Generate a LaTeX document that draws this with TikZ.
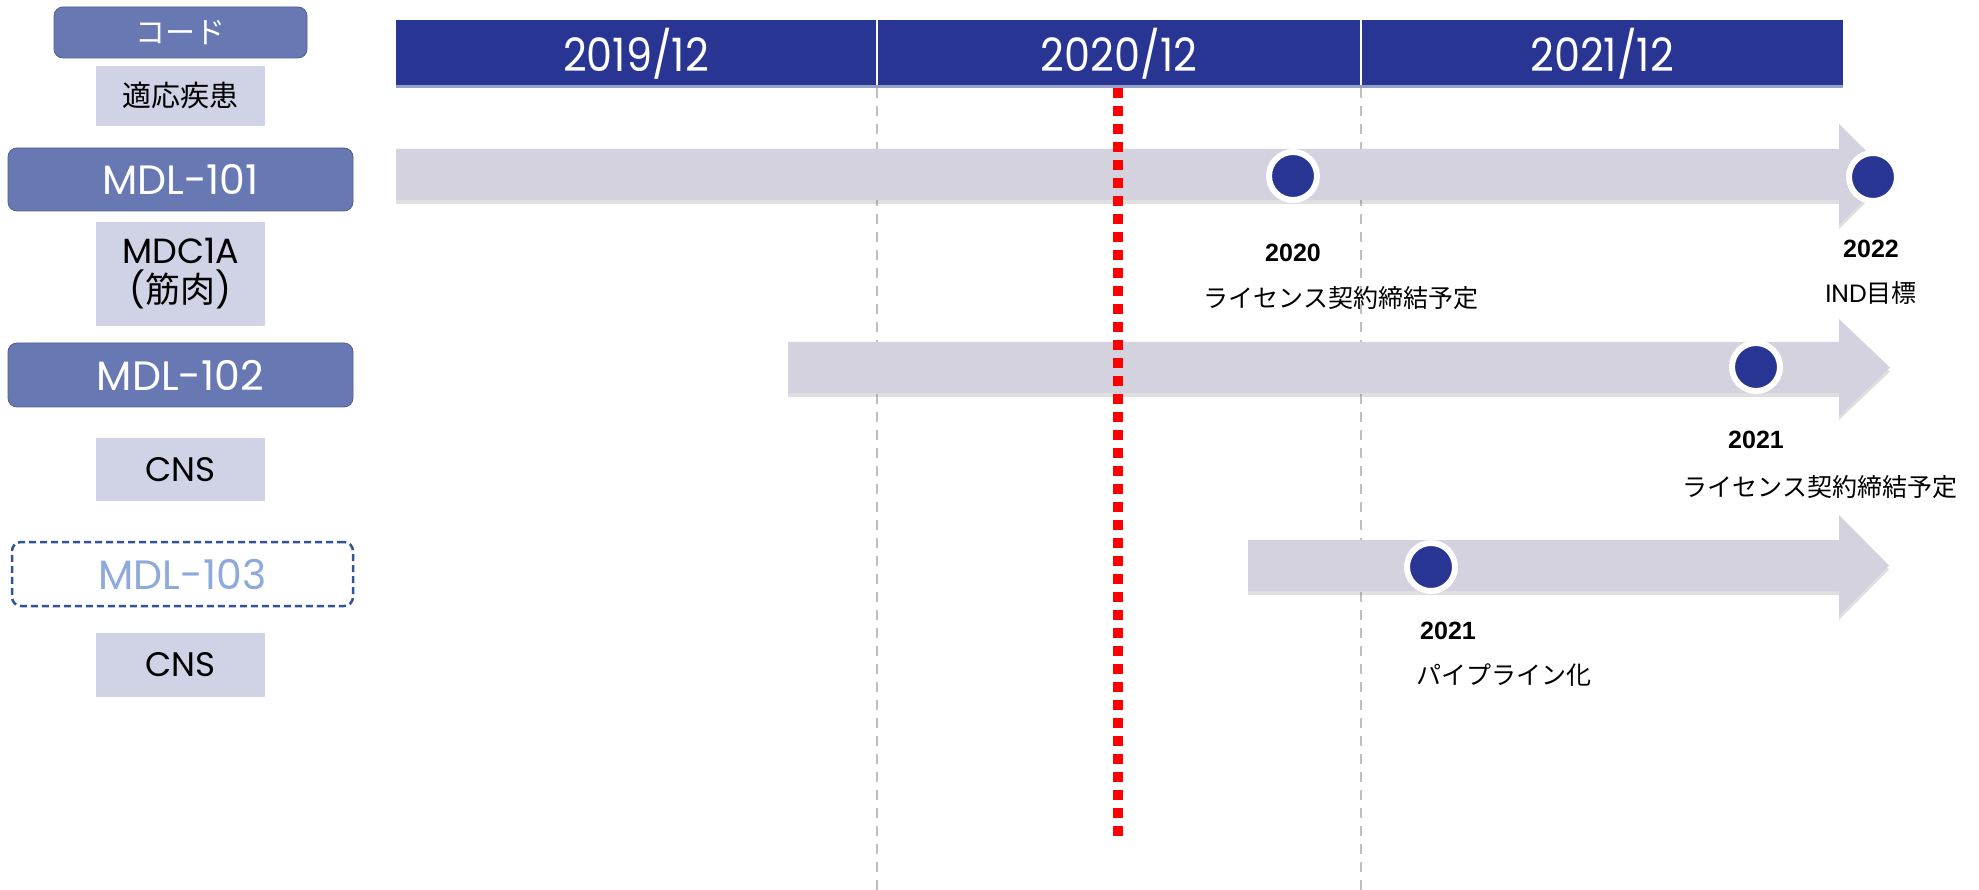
\documentclass[tikz,border=0pt]{standalone}
\usepackage{fontspec}
\setmainfont{Poppins}
\newfontfamily\jpfont{Noto Sans CJK JP}
\newfontfamily\yearfont{Liberation Sans}
\usetikzlibrary{shadows}
\definecolor{hdrblue}{RGB}{40,53,147}
\definecolor{codeblue}{RGB}{104,120,179}
\definecolor{lavender}{RGB}{208,210,230}
\definecolor{trackgrey}{RGB}{211,210,222}
\definecolor{ghostblue}{RGB}{142,169,219}
\definecolor{dashblue}{RGB}{47,85,151}
\begin{document}
\begin{tikzpicture}[x=1pt,y=-1pt,
  codebox/.style={fill=codeblue,draw=codeblue!80!black,line width=0.8pt,rounded corners=9pt,text=white,inner sep=0pt,minimum width=345pt,minimum height=63pt,font=\fontsize{41}{45}\selectfont},
  infobox/.style={fill=lavender,inner sep=0pt,minimum width=169pt,align=center,font=\fontsize{34}{36}\selectfont},
  track/.style={fill=trackgrey,drop shadow={shadow xshift=0pt,shadow yshift=-4pt,opacity=0.25}},
  milestone/.style={circle,fill=hdrblue,draw=white,line width=6pt,minimum size=48pt,inner sep=0pt},
  yearlbl/.style={font=\yearfont\bfseries\fontsize{25}{28}\selectfont},
  eventlbl/.style={font=\jpfont\fontsize{25}{29}\selectfont},
  datelbl/.style={text=white,font=\fontsize{46}{50}\selectfont,xscale=0.9},
  gridline/.style={draw=black!25,line width=2pt,dash pattern=on 10pt off 8pt},
]
\useasboundingbox (0,0) rectangle (1979,890);

% left column
\node[codebox,minimum width=253pt,minimum height=51pt,font=\jpfont\fontsize{30}{33}\selectfont] (codehdr) at (180.5,32.5) {コード};
\node[infobox,minimum height=60pt,font=\jpfont\fontsize{29}{32}\selectfont] (diseasehdr) at (180.5,96) {適応疾患};
\node[codebox] (mdl101) at (180.5,179.5) {MDL-101};
\node[infobox,minimum height=104pt,font=\fontsize{35}{39}\selectfont] (mdc1a) at (180.5,274) {MDC1A\\({\jpfont 筋肉})};
\node[codebox,minimum height=64pt] (mdl102) at (180.5,375) {MDL-102};
\node[infobox,minimum height=63pt] (cnsa) at (180.5,469.5) {CNS};
\node[codebox,fill=none,draw=dashblue,line width=2.5pt,dash pattern=on 7pt off 4pt,text=ghostblue,minimum width=341pt,minimum height=64pt] (mdl103) at (182.5,574) {MDL-103};
\node[infobox,minimum height=64pt] (cnsb) at (180.5,665) {CNS};

% year grid
\draw[gridline] (877,88) -- (877,890);
\draw[gridline] (1361,88) -- (1361,890);
\fill[hdrblue] (396,20) rectangle (1843,88);
\draw[white,line width=1.5pt] (877,20) -- (877,88) (1361,20) -- (1361,88);
\draw[codeblue!70,line width=3pt] (396,87) -- (1843,87);
\node[datelbl] (y2019) at (636,54) {2019/12};
\node[datelbl] (y2020) at (1119,54) {2020/12};
\node[datelbl] (y2021) at (1602,54) {2021/12};

% tracks
\fill[track] (396,149) -- (1839,149) -- (1839,124) -- (1890,174.5) -- (1839,225) -- (1839,200) -- (396,200) -- cycle;
\fill[track] (788,342) -- (1839,342) -- (1839,319) -- (1890,367.5) -- (1839,416) -- (1839,393) -- (788,393) -- cycle;
\fill[track] (1248,540) -- (1839,540) -- (1839,515) -- (1889,565.5) -- (1839,616) -- (1839,591) -- (1248,591) -- cycle;

% today
\draw[red,line width=10pt,dash pattern=on 10pt off 8pt] (1118,88) -- (1118,836);

% milestones
\node[milestone] (m1a) at (1293,176) {};
\node[milestone] (m1b) at (1873,177) {};
\node[milestone] (m2) at (1756,367) {};
\node[milestone] (m3) at (1431,567) {};
\node[yearlbl] (m1aY) at (1293,253) {2020};
\node[eventlbl] (m1aE) at (1341,298) {ライセンス契約締結予定};
\node[yearlbl] (m1bY) at (1871,249) {2022};
\node[eventlbl] (m1bE) at (1871,293) {{\rmfamily IND}目標};
\node[yearlbl] (m2Y) at (1756,440) {2021};
\node[eventlbl] (m2E) at (1820,487) {ライセンス契約締結予定};
\node[yearlbl] (m3Y) at (1448,631) {2021};
\node[eventlbl] (m3E) at (1504,675) {パイプライン化};
\end{tikzpicture}
\end{document}
